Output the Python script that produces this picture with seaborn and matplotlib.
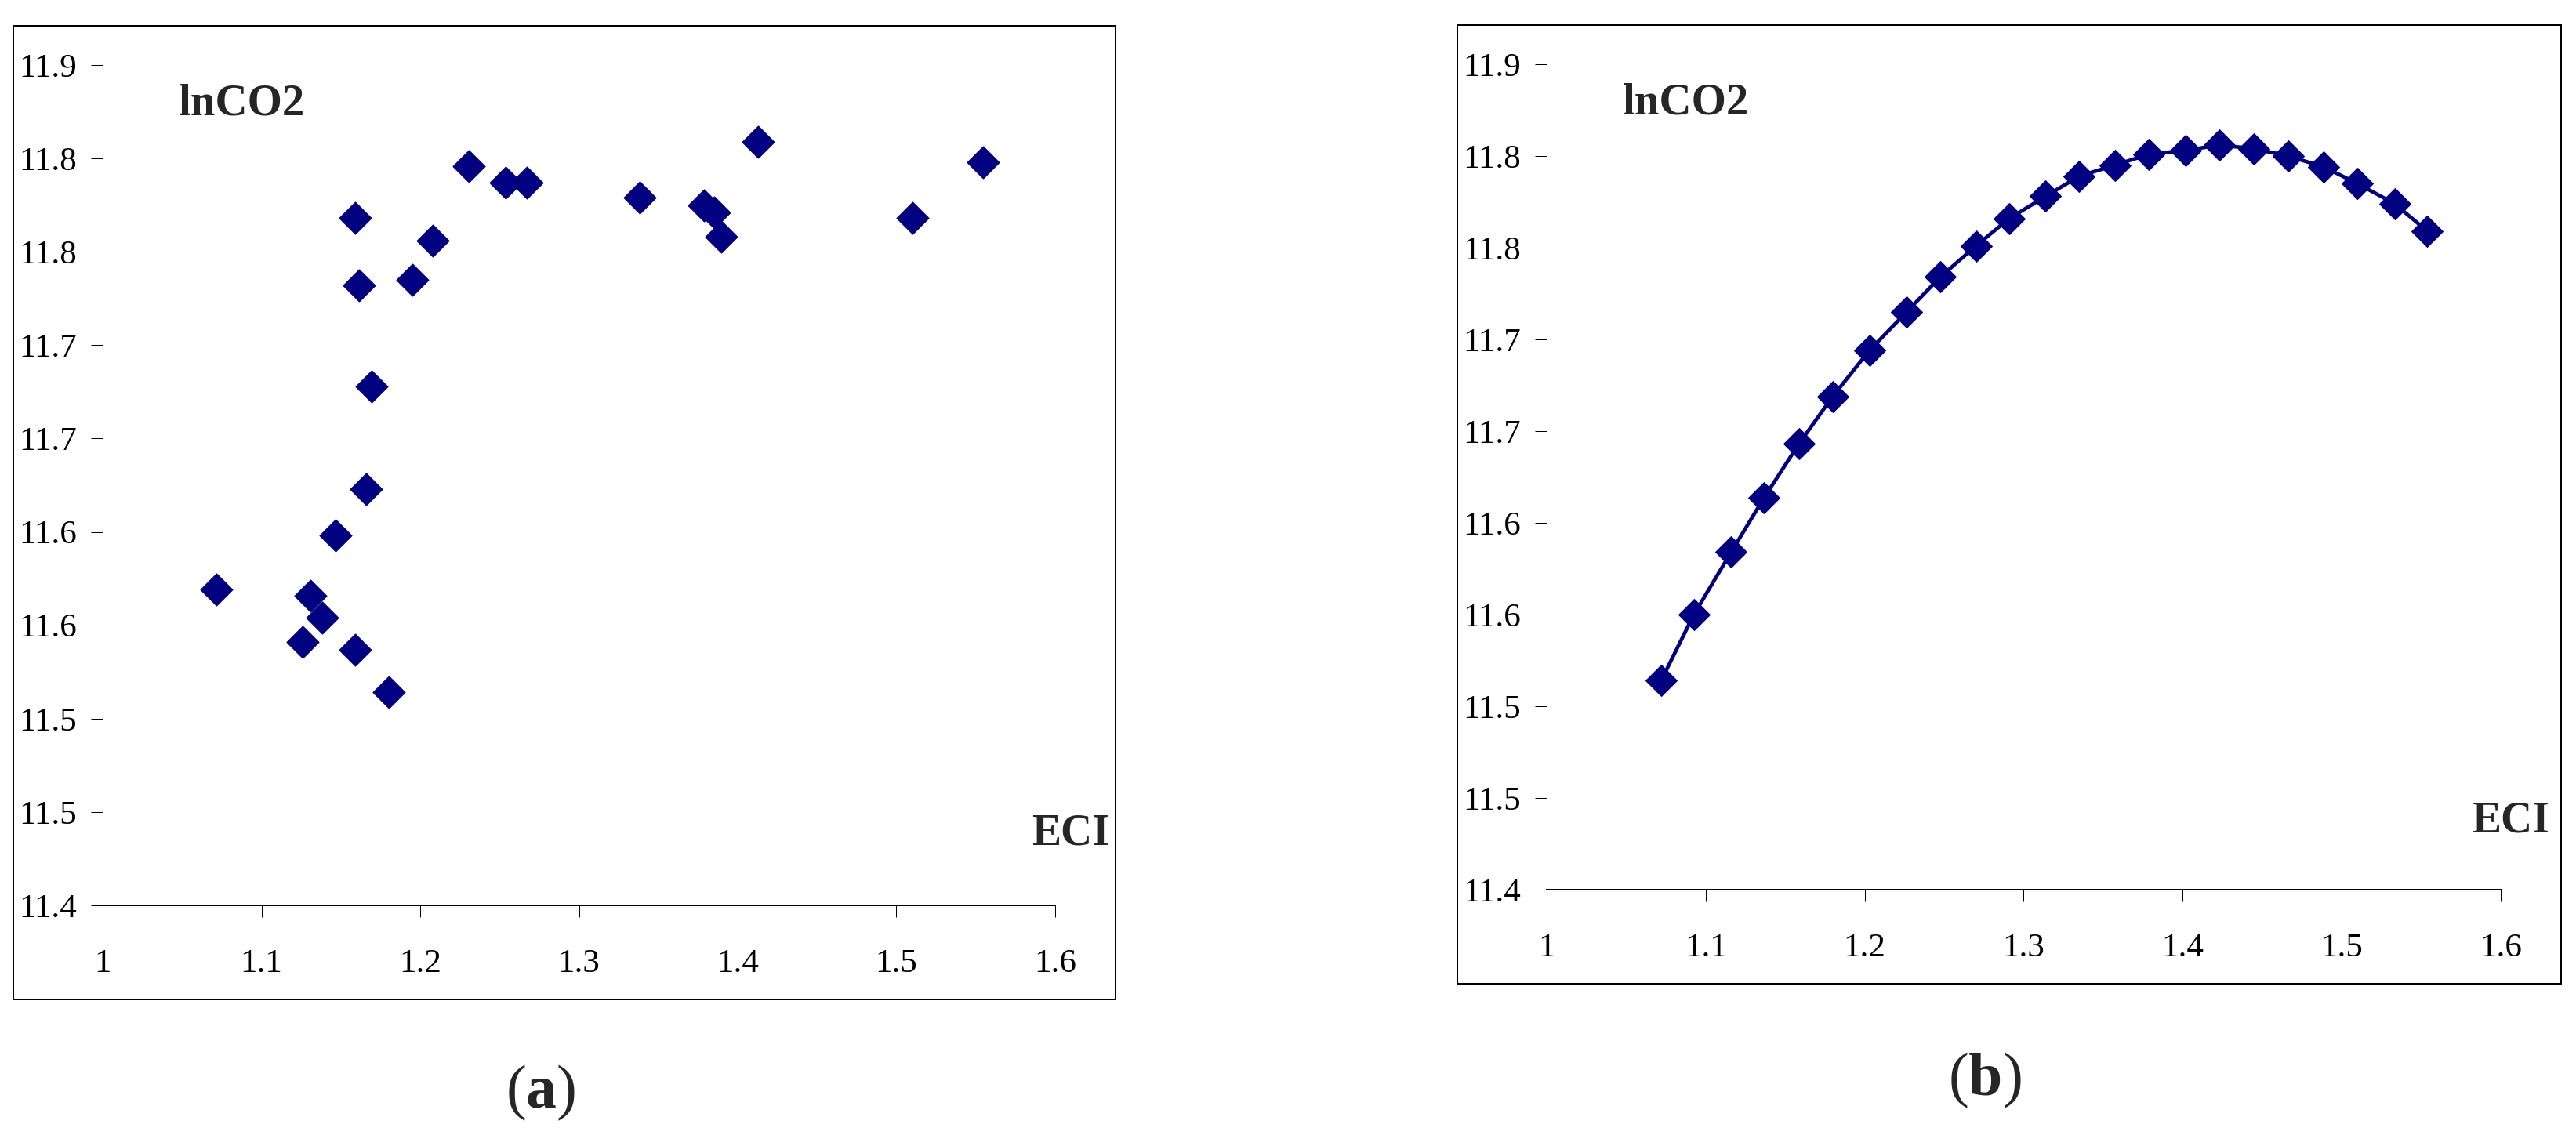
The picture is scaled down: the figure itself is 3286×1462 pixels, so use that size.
import numpy as np
import matplotlib
matplotlib.use("Agg")
import matplotlib.pyplot as plt
import seaborn as sns
from matplotlib.patches import Rectangle

# panel (a): observed points
eci_a = [1.0715, 1.1306, 1.1380, 1.1257, 1.1590, 1.1800, 1.1464, 1.1660,
         1.1694, 1.1615, 1.1590, 1.1950, 1.2078, 1.2307, 1.2536, 1.2673,
         1.3383, 1.3789, 1.3851, 1.3895, 1.4129, 1.5099, 1.5545]
lnco2_a = [11.619, 11.616, 11.604, 11.591, 11.587, 11.564, 11.648, 11.673,
           11.728, 11.782, 11.818, 11.785, 11.806, 11.846, 11.837, 11.837,
           11.829, 11.825, 11.821, 11.808, 11.859, 11.818, 11.848]

# panel (b): fitted curve
eci_b = [1.0720, 1.0926, 1.1160, 1.1366, 1.1586, 1.1800, 1.2030, 1.2264,
         1.2475, 1.2700, 1.2910, 1.3138, 1.3349, 1.3573, 1.3788, 1.4018,
         1.4228, 1.4448, 1.4663, 1.4888, 1.5098, 1.5332, 1.5538]
lnco2_b = [11.564, 11.600, 11.634, 11.6635, 11.693, 11.719, 11.744, 11.765,
           11.784, 11.801, 11.816, 11.828, 11.839, 11.845, 11.851, 11.853,
           11.856, 11.854, 11.850, 11.844, 11.835, 11.824, 11.809]

x_ticks = [1.0, 1.1, 1.2, 1.3, 1.4, 1.5, 1.6]
x_labels = ["1", "1.1", "1.2", "1.3", "1.4", "1.5", "1.6"]
y_ticks = [11.45, 11.50, 11.55, 11.60, 11.65, 11.70, 11.75, 11.80, 11.85, 11.90]
y_labels = ["11.4", "11.5", "11.5", "11.6", "11.6", "11.7", "11.7", "11.8", "11.8", "11.9"]

NAVY = "#000080"

sns.set_style("ticks")
plt.rcParams["font.family"] = ["Liberation Serif", "DejaVu Serif"]
plt.rcParams["mathtext.fontset"] = "custom"
plt.rcParams["mathtext.rm"] = "Liberation Serif"
plt.rcParams["mathtext.bf"] = "Liberation Serif:bold"

fig = plt.figure(figsize=(32.86, 14.62), dpi=100)
ax_a = fig.add_axes([0.0399, 0.2100, 0.3697, 0.7332])
ax_b = fig.add_axes([0.6004, 0.2237, 0.3704, 0.7202])

sns.scatterplot(x=eci_a, y=lnco2_a, ax=ax_a, marker="D", s=430,
                color=NAVY, edgecolor=NAVY, linewidth=1)
sns.lineplot(x=eci_b, y=lnco2_b, ax=ax_b, color=NAVY, linewidth=3.4,
             marker="D", markersize=20, markeredgecolor=NAVY,
             markerfacecolor=NAVY)

for ax in (ax_a, ax_b):
    ax.set_xlim(1.0, 1.6)
    ax.set_ylim(11.45, 11.90)
    ax.set_xticks(x_ticks)
    ax.set_xticklabels(x_labels)
    ax.set_yticks(y_ticks)
    ax.set_yticklabels(y_labels)
    ax.tick_params(axis="x", length=10.8, width=0.72, pad=29,
                   labelsize=31, color="black")
    ax.tick_params(axis="y", length=10.8, width=0.72, pad=13,
                   labelsize=31, color="black")
    sns.despine(ax=ax)
    ax.spines["bottom"].set_linewidth(1.44)
    ax.spines["left"].set_linewidth(0.72)
    ax.spines["bottom"].set_color("black")
    ax.spines["left"].set_color("black")
    ax.set_facecolor("none")
    for lab in ax.get_xticklabels() + ax.get_yticklabels():
        lab.set_color("black")

# outer chart frames
for x0, y0, x1, y1 in [(0.00517, 0.1279, 0.4331, 0.9774),
                       (0.5657, 0.1416, 0.9942, 0.9781)]:
    fig.patches.append(Rectangle((x0, y0), x1 - x0, y1 - y0, fill=False,
                                 edgecolor="black", linewidth=1.44,
                                 transform=fig.transFigure))

fig.text(0.0694, 0.8995, "lnCO2", fontsize=41, fontweight="bold", va="baseline")
fig.text(0.6300, 0.9008, "lnCO2", fontsize=41, fontweight="bold", va="baseline")
fig.text(0.4306, 0.2627, "ECI", fontsize=40, fontweight="bold",
         ha="right", va="baseline")
fig.text(0.9897, 0.2736, "ECI", fontsize=40, fontweight="bold",
         ha="right", va="baseline")

fig.text(0.2100, 0.0335, r"($\mathbf{a}$)", fontsize=56, ha="center", va="baseline")
fig.text(0.7705, 0.0445, r"($\mathbf{b}$)", fontsize=56, ha="center", va="baseline")

fig.savefig("out.png", dpi=100, facecolor="white")
